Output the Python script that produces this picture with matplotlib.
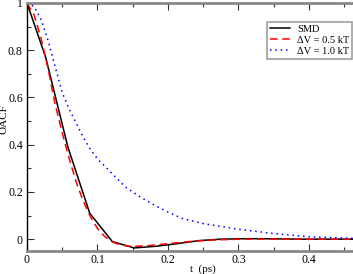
import matplotlib.pyplot as plt
from matplotlib.ticker import MultipleLocator

plt.rcParams['font.family'] = ['Liberation Serif', 'DejaVu Serif']

# SMD (black solid)
t_smd = [0.0, 0.0265, 0.058, 0.089, 0.121, 0.152, 0.183, 0.213, 0.244, 0.274,
         0.305, 0.335, 0.366, 0.396, 0.427, 0.457, 0.488]
c_smd = [1.0, 0.77, 0.39, 0.11, -0.01, -0.037, -0.03, -0.019, -0.006, 0.0,
         0.002, 0.002, 0.001, 0.0, 0.0, 0.0, 0.0]

# dV = 0.5 kT (red dashed)
t_05 = [0.0, 0.01, 0.02, 0.03, 0.04, 0.05, 0.06, 0.07, 0.08, 0.09, 0.10,
        0.11, 0.12, 0.13, 0.14, 0.15, 0.17, 0.20, 0.23, 0.26, 0.30, 0.35,
        0.40, 0.46, 0.49]
c_05 = [1.0, 0.95, 0.85, 0.72, 0.57, 0.45, 0.34, 0.24, 0.16, 0.095, 0.045,
        0.012, -0.01, -0.022, -0.028, -0.03, -0.028, -0.019, -0.01, -0.004,
        0.0, 0.001, 0.0, 0.0, 0.0]

# dV = 1.0 kT (blue dotted)
t_10 = [0.0, 0.01, 0.02, 0.03, 0.04, 0.05, 0.06, 0.07, 0.08, 0.09, 0.10,
        0.12, 0.14, 0.16, 0.18, 0.20, 0.22, 0.25, 0.30, 0.35, 0.40, 0.46, 0.49]
c_10 = [1.0, 0.985, 0.93, 0.84, 0.73, 0.62, 0.55, 0.49, 0.43, 0.38, 0.34,
        0.28, 0.22, 0.18, 0.145, 0.115, 0.088, 0.066, 0.042, 0.024, 0.01,
        0.004, 0.003]

fig = plt.figure(figsize=(3.53, 2.74), dpi=100)
ax = fig.add_axes([27 / 353, 23 / 274, 1 - 27 / 353, 248 / 274])

ax.plot(t_smd, c_smd, color='black', lw=1.1, label='SMD')
ax.plot(t_05, c_05, color='red', lw=1.1, ls=(0, (5, 3)), label='\u0394V = 0.5 kT')
ax.plot(t_10, c_10, color='blue', lw=1.1, ls=(0, (1, 2.5)), label='\u0394V = 1.0 kT')

ax.set_xlim(0, 0.4625)
ax.set_ylim(-0.05, 1.0)

ax.xaxis.set_major_locator(MultipleLocator(0.1))
ax.xaxis.set_minor_locator(MultipleLocator(0.05))
ax.yaxis.set_major_locator(MultipleLocator(0.2))
ax.yaxis.set_minor_locator(MultipleLocator(0.1))
ax.xaxis.set_major_formatter(plt.FuncFormatter(lambda v, p: '0' if abs(v) < 1e-9 else f'{v:g}'))
ax.yaxis.set_major_formatter(plt.FuncFormatter(lambda v, p: '0' if abs(v) < 1e-9 else f'{v:g}'))

ax.tick_params(which='both', direction='in', top=True, right=False,
               labelsize=8.5, color='#333333', width=0.8)
ax.tick_params(axis='x', pad=2)
ax.tick_params(axis='y', pad=3)
ax.tick_params(which='major', length=5)
ax.tick_params(which='minor', length=3)

for s in ['top', 'bottom']:
    ax.spines[s].set_color('#888888')
    ax.spines[s].set_linewidth(2)
ax.spines['left'].set_color('black')
ax.spines['left'].set_linewidth(1)
ax.spines['right'].set_visible(False)

ax.set_xlabel('t  (ps)', fontsize=8, labelpad=0)
ax.set_ylabel('OACF', fontsize=8)
ax.xaxis.set_label_coords(176 / 326, -13 / 248)
ax.yaxis.set_label_coords(-18 / 326, 0.53)

leg = ax.legend(loc='upper right', bbox_to_anchor=(0.998, 0.925), fontsize=7.5,
                frameon=True, fancybox=False, handlelength=1.9,
                borderpad=0.3, labelspacing=0.15, handletextpad=0.7,
                borderaxespad=0)
leg.get_frame().set_edgecolor('#888888')
leg.get_frame().set_linewidth(1.2)

fig.savefig('out.png', dpi=100)
